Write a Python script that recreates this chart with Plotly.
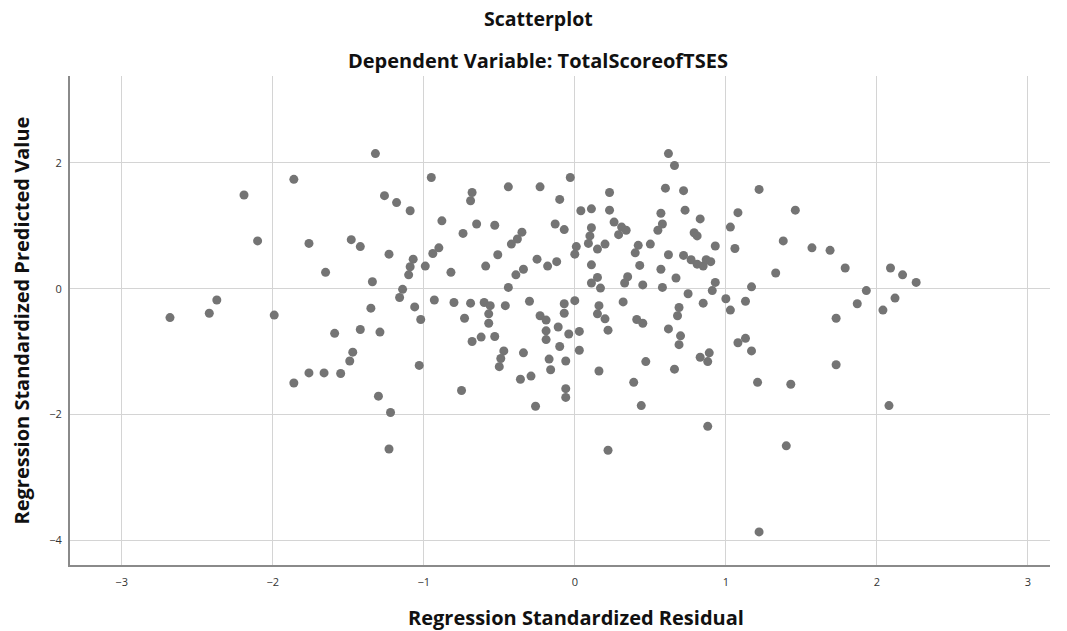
import plotly.graph_objects as go

# Regression standardized residual (x) and standardized predicted value (y)
residual = [
    -1.86, -2.19, -2.10, -1.76, -1.65,
    -1.32, -0.95, -1.26, -1.18, -1.09, -0.68, -0.69, -0.44, -0.88, -0.65, -0.53, -0.74, -0.35, -0.38, -0.42,
    -1.48, -1.42, -1.23, -0.90, -0.94, -1.07, -1.09, -1.10, -0.99, -0.82, -0.59, -0.51, -0.39, -0.34, -1.34,
    -0.44, -1.14,
    0.62, 0.66, -0.23, -0.03, -0.10, 0.23, 0.60, 0.72, 0.04, 0.11, 0.23, 0.73, 0.57, 0.83, -0.13, -0.07, 0.26,
    0.31, 0.34, 0.29, 0.58, 0.55, 0.79, 0.81, 0.11, 0.10, 0.09, 0.01, 0.00, 0.15, 0.20, 0.42, 0.40, 0.50, 0.62,
    0.93, -0.25, -0.18, -0.12, 0.11, 0.43, 0.57, 0.72, 0.77, 0.81, 0.85, 0.87, 0.90, 0.15, 0.11, 0.17, 0.35,
    0.33, 0.45, 0.58, 0.67, 0.93, 0.91, 0.75,
    1.22, 1.08, 1.46, 1.03, 1.06, 1.38, 1.57, 1.69, 1.79, 1.33, 1.17, 2.09, 2.17, 2.26, 1.93,
    -2.37, -2.42, -2.68, -1.99, -1.59, -1.86, -1.76, -1.66, -1.55,
    -1.16, -1.35, -1.06, -1.02, -0.93, -0.80, -0.69, -0.60, -0.56, -0.57, -0.57, -0.46, -0.30, -0.73, -1.42,
    -1.29, -1.47, -1.49, -1.03, -0.68, -0.62, -0.53, -0.47, -0.49, -0.50, -0.34, -0.36, -0.29, -0.75, -1.30,
    -1.22, -1.23, -0.26,
    -0.07, 0.00, -0.07, -0.23, -0.19, -0.11, -0.19, -0.19, -0.04, 0.03, -0.10, 0.03, -0.17, -0.06, -0.16,
    -0.06, -0.06, 0.16, 0.15, 0.20, 0.22, 0.32, 0.41, 0.45, 0.16, 0.47, 0.39, 0.44, 0.22, 0.69, 0.68, 0.85,
    0.62, 0.70, 0.69, 0.83, 0.89, 0.88, 0.66, 0.88,
    1.00, 1.03, 1.13, 1.08, 1.13, 1.17, 1.21, 1.43, 1.40, 1.73, 1.73, 1.87, 2.04, 2.12, 2.08,
    1.22,
]
predicted = [
    1.74, 1.49, 0.76, 0.72, 0.26,
    2.15, 1.77, 1.48, 1.37, 1.24, 1.53, 1.40, 1.62, 1.08, 1.03, 1.01, 0.88, 0.90, 0.79, 0.71,
    0.78, 0.67, 0.55, 0.65, 0.56, 0.47, 0.35, 0.22, 0.36, 0.26, 0.36, 0.54, 0.22, 0.31, 0.11,
    0.02, -0.01,
    2.15, 1.96, 1.62, 1.77, 1.42, 1.53, 1.60, 1.56, 1.24, 1.27, 1.25, 1.25, 1.20, 1.11, 1.03, 0.94, 1.06,
    0.98, 0.93, 0.86, 1.03, 0.93, 0.89, 0.84, 0.97, 0.84, 0.72, 0.67, 0.55, 0.63, 0.71, 0.69, 0.57, 0.71, 0.54,
    0.68, 0.47, 0.36, 0.43, 0.38, 0.37, 0.31, 0.53, 0.46, 0.39, 0.36, 0.46, 0.43, 0.18, 0.09, 0.01, 0.19,
    0.09, 0.06, 0.02, 0.17, 0.10, -0.03, -0.08,
    1.58, 1.21, 1.25, 0.98, 0.64, 0.76, 0.65, 0.61, 0.33, 0.25, 0.03, 0.33, 0.22, 0.10, -0.03,
    -0.18, -0.39, -0.46, -0.42, -0.71, -1.50, -1.34, -1.34, -1.35,
    -0.14, -0.31, -0.29, -0.49, -0.18, -0.22, -0.23, -0.22, -0.27, -0.40, -0.55, -0.27, -0.20, -0.47, -0.65,
    -0.69, -1.01, -1.15, -1.22, -0.84, -0.77, -0.76, -0.99, -1.11, -1.24, -1.02, -1.44, -1.39, -1.62, -1.71,
    -1.97, -2.55, -1.87,
    -0.24, -0.19, -0.39, -0.43, -0.50, -0.61, -0.67, -0.81, -0.72, -0.68, -0.92, -0.98, -1.12, -1.15, -1.29,
    -1.59, -1.73, -0.27, -0.40, -0.48, -0.66, -0.21, -0.49, -0.55, -1.31, -1.16, -1.49, -1.86, -2.57, -0.30,
    -0.43, -0.23, -0.64, -0.75, -0.89, -1.09, -1.02, -1.16, -1.28, -2.19,
    -0.16, -0.34, -0.20, -0.86, -0.79, -0.99, -1.49, -1.52, -2.50, -0.47, -1.21, -0.24, -0.34, -0.15, -1.86,
    -3.87,
]

x_ticks = [-3, -2, -1, 0, 1, 2, 3]
y_ticks = [-4, -2, 0, 2]

title_text = "Scatterplot"
subtitle_text = "Dependent Variable: TotalScoreofTSES"
x_title = "Regression Standardized Residual"
y_title = "Regression Standardized Predicted Value"

FONT = "Open Sans"

fig = go.Figure()
fig.add_trace(go.Scatter(
    x=residual, y=predicted, mode="markers",
    marker=dict(size=9, color="#747474", line=dict(width=0)),
    hoverinfo="x+y", showlegend=False,
))

fig.update_layout(
    width=1067, height=631,
    margin=dict(l=70, r=17, t=76, b=66),
    paper_bgcolor="white", plot_bgcolor="white",
    font=dict(family=FONT, color="#222222"),
    xaxis=dict(
        range=[-3.342, 3.146], tickvals=x_ticks, showgrid=True, gridcolor="#d4d4d4", gridwidth=1,
        zeroline=False, showline=True, linecolor="#8a8a8a", linewidth=2,
        ticks="outside", ticklen=6, tickcolor="rgba(0,0,0,0)",
        tickfont=dict(size=11, color="#333333", family=FONT),
    ),
    yaxis=dict(
        range=[-4.396, 3.384], tickvals=y_ticks, showgrid=True, gridcolor="#d4d4d4", gridwidth=1,
        zeroline=False, showline=True, linecolor="#8a8a8a", linewidth=2,
        ticks="outside", ticklen=4, tickcolor="rgba(0,0,0,0)",
        tickfont=dict(size=11, color="#333333", family=FONT),
    ),
    annotations=[
        dict(text="<b>%s</b>" % title_text, xref="paper", yref="paper", x=0.4776, y=1,
             yanchor="middle", yshift=58, showarrow=False, font=dict(size=19.5, family=FONT, color="#111111")),
        dict(text="<b>%s</b>" % subtitle_text, xref="paper", yref="paper", x=0.4776, y=1,
             yanchor="middle", yshift=16, showarrow=False, font=dict(size=20, family=FONT, color="#111111")),
        dict(text="<b>%s</b>" % x_title, xref="paper", yref="paper", x=0.516, y=0,
             yanchor="middle", yshift=-52, showarrow=False, font=dict(size=20, family=FONT, color="#111111")),
        dict(text="<b>%s</b>" % y_title, xref="paper", yref="paper", x=0, y=0.5, textangle=-90,
             xanchor="center", xshift=-49, showarrow=False, font=dict(size=20, family=FONT, color="#111111")),
    ],
)

fig.write_html("out.html", config={"displayModeBar": False},
               post_script="document.body.style.margin='0';")
